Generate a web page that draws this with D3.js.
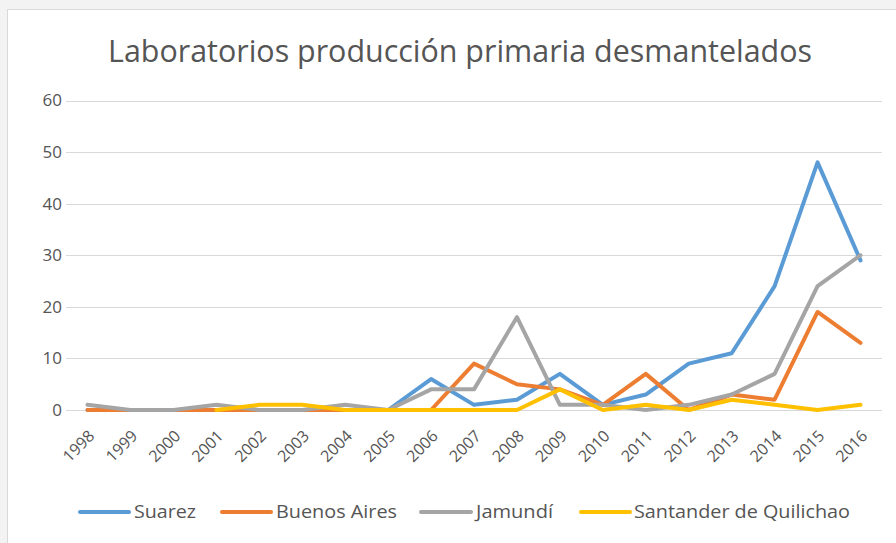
<!DOCTYPE html>
<html>
<head>
<meta charset="utf-8">
<script src="https://cdn.jsdelivr.net/npm/d3@7"></script>
<style>
  html, body { margin: 0; padding: 0; background: #f3f3f3; }
  svg { display: block; }
</style>
</head>
<body>
<script>
// data
const years = ["1998","1999","2000","2001","2002","2003","2004","2005","2006","2007",
               "2008","2009","2010","2011","2012","2013","2014","2015","2016"];
const suarez      = [0,0,0,0,0,0,0,0,6,1,2,7,1,3,9,11,24,48,29];
const buenosAires = [0,0,0,0,0,0,0,0,0,9,5,4,1,7,0,3,2,19,13];
const jamundi     = [1,0,0,1,0,0,1,0,4,4,18,1,1,0,1,3,7,24,30];
const santander   = [null,null,null,0,1,1,0,0,0,0,0,4,0,1,0,2,1,0,1];
const yTicks = [0,10,20,30,40,50,60];

const series = [
  {name: "Suarez", values: suarez, color: "#5b9bd5"},
  {name: "Buenos Aires", values: buenosAires, color: "#ed7d31"},
  {name: "Jamundí", values: jamundi, color: "#a5a5a5"},
  {name: "Santander de Quilichao", values: santander, color: "#ffc000"}
];

const width = 896, height = 543;
const font = "'Open Sans', sans-serif";
const textColor = "#555";

const svg = d3.select("body").append("svg")
    .attr("width", width)
    .attr("height", height);

// chart frame
svg.append("rect")
    .attr("x", 7.5).attr("y", 9.5)
    .attr("width", width).attr("height", height)
    .attr("fill", "#fff")
    .attr("stroke", "#d9d9d9");

const x = d3.scalePoint()
    .domain(years)
    .range([87.5, 860.5]);

const y = d3.scaleLinear()
    .domain([0, 60])
    .range([410, 100.5]);

// title
svg.append("text")
    .attr("x", 460).attr("y", 62)
    .attr("text-anchor", "middle")
    .attr("font-family", font)
    .attr("font-size", 31)
    .attr("fill", textColor)
    .attr("textLength", 704)
    .attr("lengthAdjust", "spacingAndGlyphs")
    .text("Laboratorios producción primaria desmantelados");

// gridlines
svg.append("g")
  .selectAll("line")
  .data(yTicks)
  .join("line")
    .attr("x1", 66).attr("x2", 882)
    .attr("y1", d => Math.round(y(d)) + 0.5)
    .attr("y2", d => Math.round(y(d)) + 0.5)
    .attr("stroke", "#d9d9d9")
    .attr("stroke-width", 1);

// y labels
svg.append("g")
  .selectAll("text")
  .data(yTicks)
  .join("text")
    .attr("x", 62)
    .attr("y", d => y(d))
    .attr("dy", "0.35em")
    .attr("text-anchor", "end")
    .attr("font-family", font)
    .attr("font-size", 17)
    .attr("fill", textColor)
    .text(d => d);

// x labels, rotated
svg.append("g")
  .selectAll("text")
  .data(years)
  .join("text")
    .attr("transform", d => `translate(${x(d) + 8},437) rotate(-45)`)
    .attr("text-anchor", "end")
    .attr("font-family", font)
    .attr("font-size", 16)
    .attr("fill", textColor)
    .text(d => d);

const line = d3.line()
    .defined(d => d[1] != null)
    .x(d => x(d[0]))
    .y(d => y(d[1]));

svg.append("g")
  .selectAll("path")
  .data(series)
  .join("path")
    .attr("d", s => line(years.map((yr, i) => [yr, s.values[i]])))
    .attr("fill", "none")
    .attr("stroke", s => s.color)
    .attr("stroke-width", 4)
    .attr("stroke-linejoin", "round")
    .attr("stroke-linecap", "round");

// legend
const legendItems = [
  {x0: 80, x1: 129, tx: 134, tw: 62},
  {x0: 222, x1: 271, tx: 276, tw: 121},
  {x0: 421, x1: 471, tx: 476, tw: 77},
  {x0: 581, x1: 630, tx: 634, tw: 216}
];
const legend = svg.append("g")
  .selectAll("g")
  .data(series)
  .join("g");

legend.append("line")
    .attr("x1", (d, i) => legendItems[i].x0)
    .attr("x2", (d, i) => legendItems[i].x1)
    .attr("y1", 512).attr("y2", 512)
    .attr("stroke", d => d.color)
    .attr("stroke-width", 4)
    .attr("stroke-linecap", "round");

legend.append("text")
    .attr("x", (d, i) => legendItems[i].tx)
    .attr("y", 512)
    .attr("dy", "0.35em")
    .attr("font-family", font)
    .attr("font-size", 18)
    .attr("fill", textColor)
    .attr("textLength", (d, i) => legendItems[i].tw)
    .attr("lengthAdjust", "spacingAndGlyphs")
    .text(d => d.name);
</script>
</body>
</html>
